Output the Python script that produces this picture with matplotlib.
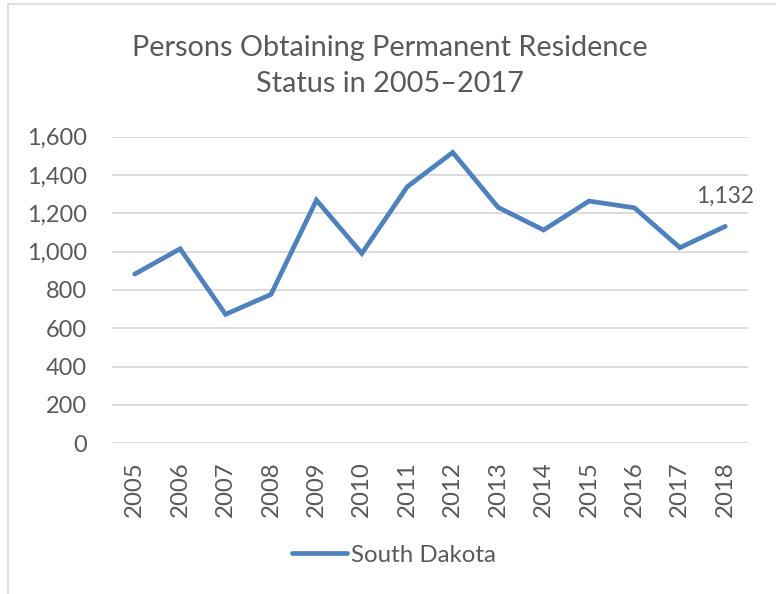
import matplotlib
matplotlib.use("Agg")
import matplotlib.pyplot as plt
from matplotlib.lines import Line2D

years = ["2005", "2006", "2007", "2008", "2009", "2010", "2011",
         "2012", "2013", "2014", "2015", "2016", "2017", "2018"]
values = [883, 1015, 673, 777, 1269, 991, 1339,
          1518, 1231, 1113, 1264, 1229, 1021, 1132]
series_name = "South Dakota"
title_lines = ["Persons Obtaining Permanent Residence", "Status in 2005\u20132017"]
yticks = [0, 200, 400, 600, 800, 1000, 1200, 1400, 1600]

FONT = ['Lato', 'DejaVu Sans']
plt.rcParams['font.family'] = FONT
text_color = "#595959"
line_color = "#4F81BD"
grid_color = "#D9D9D9"

W, H = 776, 594
fig = plt.figure(figsize=(W / 100, H / 100), dpi=100)
renderer = fig.canvas.get_renderer()


def fit_size(s, target_px):
    t = fig.text(0, 0, s, fontsize=10)
    w = t.get_window_extent(renderer).width
    t.remove()
    return 10 * target_px / w


def fx(px):
    return px / W


def fy(py):
    return 1 - py / H


# frame (left and top edges)
fig.add_artist(Line2D([fx(8), fx(8)], [fy(4), 0], transform=fig.transFigure,
                      color="#D9D9D9", linewidth=1.2))
fig.add_artist(Line2D([fx(8), 1], [fy(4), fy(4)], transform=fig.transFigure,
                      color="#D9D9D9", linewidth=1.2))

tick_fs = fit_size("1,600", 60)
year_fs = tick_fs * 1.02
label_fs = fit_size("1,132", 58)
legend_fs = fit_size("South Dakota", 145)
title_fs = fit_size(title_lines[0], 516)

ax = fig.add_axes([fx(112), fy(443.3), fx(748 - 112), (443.3 - 136.7) / H])
x = list(range(len(years)))
line, = ax.plot(x, values, color=line_color, linewidth=3.4,
                solid_capstyle='round', solid_joinstyle='miter', label=series_name)
ax.set_xlim(-0.5, len(years) - 0.5)
ax.set_ylim(0, 1600)
ax.set_yticks(yticks)
ax.set_yticklabels([f"{v:,}" for v in yticks], fontsize=tick_fs)
ax.set_xticks(x)
ax.set_xticklabels(years, rotation=90, fontsize=year_fs)
ax.tick_params(axis='both', length=0, colors=text_color)
ax.tick_params(axis='y', pad=25 * 0.72)
ax.tick_params(axis='x', pad=18 * 0.72)
ax.grid(axis='y', color=grid_color, linewidth=1.3)
ax.set_axisbelow(True)
for s in ax.spines.values():
    s.set_visible(False)

ax.annotate(f"{values[-1]:,}", xy=(x[-1], values[-1]), xytext=(0, 24 * 0.72),
            textcoords='offset points', ha='center', va='baseline',
            color=text_color, fontsize=label_fs)

fig.text(fx(390), fy(56), title_lines[0], ha='center', va='baseline',
         color=text_color, fontsize=title_fs)
fig.text(fx(390), fy(92), title_lines[1], ha='center', va='baseline',
         color=text_color, fontsize=title_fs)

fig.legend(handles=[line], loc='center left', bbox_to_anchor=(fx(292), fy(555)),
           frameon=False, fontsize=legend_fs, labelcolor=text_color,
           handlelength=55 / (legend_fs / 0.72), handletextpad=0.15,
           borderpad=0, borderaxespad=0)

fig.savefig("out.png", dpi=100)
